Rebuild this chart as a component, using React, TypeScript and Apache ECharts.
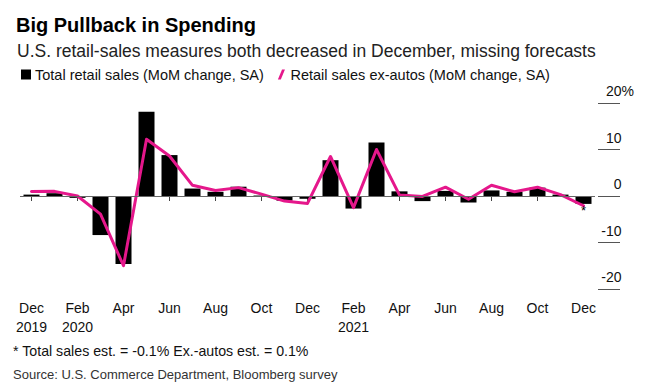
import React, { useEffect, useRef } from "react";
import * as echarts from "echarts";

const months = [
  "Dec\n2019", "Jan", "Feb\n2020", "Mar", "Apr", "May", "Jun", "Jul", "Aug", "Sep", "Oct", "Nov",
  "Dec", "Jan", "Feb\n2021", "Mar", "Apr", "May", "Jun", "Jul", "Aug", "Sep", "Oct", "Nov", "Dec",
];
const totalRetail = [
  0.3, 0.6, -0.4, -8.4, -14.6, 18.1, 8.8, 1.6, 0.9, 2.0, 0.1, -1.0, -0.6,
  7.7, -2.7, 11.5, 1.0, -1.1, 1.1, -1.4, 1.2, 0.9, 1.8, 0.3, -1.7,
];
const exAutos = [
  0.95, 1.0, 0.0, -3.9, -15.0, 12.2, 8.6, 2.3, 1.2, 1.8, 0.4, -1.1, -1.6,
  8.5, -2.5, 10.0, 0.2, -0.1, 1.9, -0.7, 2.3, 0.9, 1.9, 0.3, -2.1,
];
const yTicks = { min: -20, max: 20, interval: 10 };

const FONT = "Liberation Sans, Arial, sans-serif";

export default function App() {
  const ref = useRef<HTMLDivElement>(null);
  useEffect(() => {
    document.body.style.margin = "0";
    if (!ref.current) return;
    const chart = echarts.init(ref.current, null, { renderer: "svg" });
    const last = exAutos.length - 1;
    chart.setOption({
      animation: false,
      backgroundColor: "#ffffff",
      textStyle: { fontFamily: FONT },
      title: [
        {
          text: "Big Pullback in Spending",
          left: 11,
          top: 10,
          textStyle: { fontFamily: FONT, fontSize: 20, fontWeight: "bold", color: "#000" },
        },
        {
          text: "U.S. retail-sales measures both decreased in December, missing forecasts",
          left: 12,
          top: 37,
          textStyle: { fontFamily: FONT, fontSize: 17.5, fontWeight: "normal", color: "#222" },
        },
      ],
      legend: {
        left: 16,
        top: 62,
        itemGap: 14,
        itemWidth: 10,
        itemHeight: 10,
        textStyle: { fontFamily: FONT, fontSize: 14.5, color: "#111", padding: [0, 0, 0, -1] },
        data: [
          { name: "Total retail sales (MoM change, SA)", icon: "rect" },
          {
            name: "Retail sales ex-autos (MoM change, SA)",
            icon: "path://M0,12 L5,0 L8.5,0 L3.5,12 Z",
            itemStyle: { color: "#e5178b" },
          },
        ],
      },
      grid: { left: 20, right: 63, top: 103, bottom: 97 },
      xAxis: {
        type: "category",
        data: months,
        axisLine: { show: false },
        axisTick: {
          show: true,
          alignWithLabel: true,
          interval: 1,
          length: 5,
          lineStyle: { color: "#444", width: 1 },
        },
        axisLabel: {
          interval: 1,
          color: "#111",
          fontSize: 14,
          lineHeight: 19,
          margin: 9,
          fontFamily: FONT,
        },
        splitLine: { show: false },
      },
      yAxis: {
        type: "value",
        position: "right",
        offset: 3,
        min: yTicks.min,
        max: yTicks.max,
        interval: yTicks.interval,
        axisLine: { show: false },
        axisTick: { show: true, inside: false, length: 22, lineStyle: { color: "#555", width: 1 } },
        splitLine: { show: false },
        axisLabel: {
          align: "right",
          verticalAlign: "bottom",
          margin: 36,
          padding: [0, 0, 5, 0],
          color: "#111",
          fontSize: 14,
          fontFamily: FONT,
          formatter: (v: number) => (v === yTicks.max ? `${v}%` : `${v}{h|%}`),
          rich: {
            h: { color: "rgba(0,0,0,0)", fontSize: 14, fontFamily: FONT },
          },
        },
      },
      series: [
        {
          name: "Total retail sales (MoM change, SA)",
          type: "bar",
          data: totalRetail,
          barWidth: 16,
          itemStyle: { color: "#000" },
          markLine: {
            silent: true,
            symbol: "none",
            label: { show: false },
            lineStyle: { color: "#666", width: 1, type: "solid" },
            data: [{ yAxis: 0 }],
          },
          z: 2,
        },
        {
          name: "Retail sales ex-autos (MoM change, SA)",
          type: "line",
          data: exAutos,
          showSymbol: false,
          symbol: "none",
          lineStyle: { color: "#e5178b", width: 3, join: "round", cap: "round" },
          itemStyle: { color: "#e5178b" },
          markPoint: {
            silent: true,
            symbol: "circle",
            symbolSize: 1,
            itemStyle: { color: "rgba(0,0,0,0)" },
            label: {
              show: true,
              formatter: "*",
              position: "inside",
              offset: [0, 5],
              fontSize: 13,
              color: "#000",
              fontFamily: FONT,
            },
            data: [{ coord: [last, exAutos[last]] }],
          },
          z: 3,
        },
      ],
      graphic: [
        {
          type: "text",
          left: 13,
          top: 344,
          style: {
            text: "* Total sales est. = -0.1% Ex.-autos est. = 0.1%",
            fontFamily: FONT,
            fontSize: 14.2,
            fill: "#111",
          },
        },
        {
          type: "text",
          left: 13,
          top: 368,
          style: {
            text: "Source: U.S. Commerce Department, Bloomberg survey",
            fontFamily: FONT,
            fontSize: 13,
            fill: "#333",
          },
        },
      ],
    });
    return () => chart.dispose();
  }, []);
  return <div ref={ref} style={{ width: 658, height: 386 }} />;
}
